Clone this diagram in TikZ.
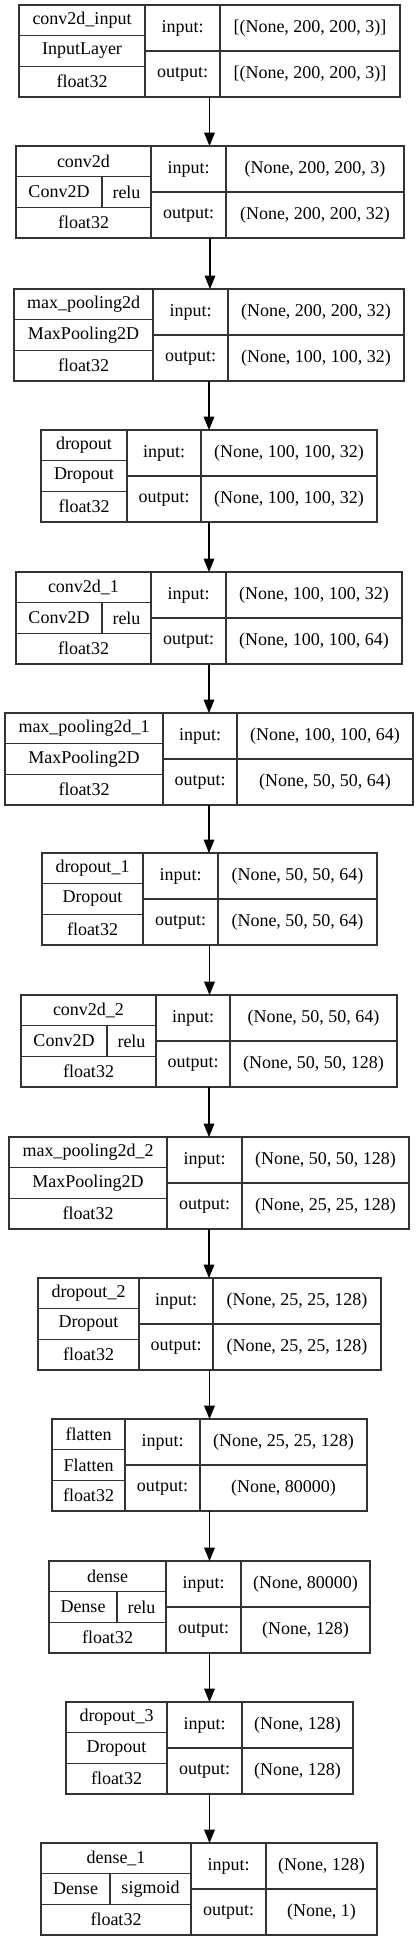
\documentclass[tikz,border=0pt]{standalone}
\usepackage{fontspec}
\setmainfont{Liberation Serif}
\usepackage{tikz}
\usetikzlibrary{arrows.meta, positioning}

\begin{document}
\begin{tikzpicture}[
    x=0.75pt, y=-0.75pt,
    font=\fontsize{13.5}{16}\selectfont,
    cel/.style={draw=black!80, line width=0.8pt, inner sep=0pt, outer sep=0pt,
                anchor=north west},
    blok/.style={inner sep=0pt, outer sep=0pt, anchor=north west,
                 minimum height=69pt},
    panah/.style={-{Triangle[length=10pt, width=8pt]}, line width=0.8pt}
  ]
    \useasboundingbox (0,0) rectangle (419,1941);
    % nr / top / left / kolom1 / kolom2 / right / split / name / class / act / in / out
    \foreach \i/\tp/\lx/\ca/\cb/\rx/\sx/\nm/\cls/\act/\inp/\outp in {
      1/5/19/145/220/400/0/conv2d\_input/InputLayer/{}/{[(None, 200, 200, 3)]}/{[(None, 200, 200, 3)]},
      2/146/16/151/226/404/102/conv2d/Conv2D/relu/{(None, 200, 200, 3)}/{(None, 200, 200, 32)},
      3/289/14/153/228/404/0/max\_pooling2d/MaxPooling2D/{}/{(None, 200, 200, 32)}/{(None, 100, 100, 32)},
      4/430/41/127/201/377/0/dropout/Dropout/{}/{(None, 100, 100, 32)}/{(None, 100, 100, 32)},
      5/572/16/151/226/402/102/conv2d\_1/Conv2D/relu/{(None, 100, 100, 32)}/{(None, 100, 100, 64)},
      6/713/5/163/237/413/0/max\_pooling2d\_1/MaxPooling2D/{}/{(None, 100, 100, 64)}/{(None, 50, 50, 64)},
      7/853/42/143/218/377/0/dropout\_1/Dropout/{}/{(None, 50, 50, 64)}/{(None, 50, 50, 64)},
      8/995/21/156/230/397/107/conv2d\_2/Conv2D/relu/{(None, 50, 50, 64)}/{(None, 50, 50, 128)},
      9/1137/9/167/242/409/0/max\_pooling2d\_2/MaxPooling2D/{}/{(None, 50, 50, 128)}/{(None, 25, 25, 128)},
      10/1278/38/139/213/381/0/dropout\_2/Dropout/{}/{(None, 25, 25, 128)}/{(None, 25, 25, 128)},
      11/1419/52/125/200/367/0/flatten/Flatten/{}/{(None, 25, 25, 128)}/{(None, 80000)},
      12/1561/49/166/241/370/117/dense/Dense/relu/{(None, 80000)}/{(None, 128)},
      13/1702/66/167/242/353/0/dropout\_3/Dropout/{}/{(None, 128)}/{(None, 128)},
      14/1843/41/191/266/377/110/dense\_1/Dense/sigmoid/{(None, 128)}/{(None, 1)}%
    }{
      \node[blok, minimum width={(\rx-\lx)*0.75pt}] (b\i) at (\lx,\tp) {};
      \node[cel, minimum width={(\ca-\lx)*0.75pt}, minimum height=23pt]
        (b\i-nm) at (\lx,\tp) {\nm};
      \ifnum\sx>0
        \node[cel, minimum width={(\sx-\lx)*0.75pt}, minimum height=23pt]
          (b\i-cls) at (\lx,\tp+30.667) {\cls};
        \node[cel, minimum width={(\ca-\sx)*0.75pt}, minimum height=23pt]
          (b\i-act) at (\sx,\tp+30.667) {\act};
      \else
        \node[cel, minimum width={(\ca-\lx)*0.75pt}, minimum height=23pt]
          (b\i-cls) at (\lx,\tp+30.667) {\cls};
      \fi
      \node[cel, minimum width={(\ca-\lx)*0.75pt}, minimum height=23pt]
        (b\i-dt) at (\lx,\tp+61.333) {float32};
      \node[cel, minimum width={(\cb-\ca)*0.75pt}, minimum height=34.5pt]
        (b\i-il) at (\ca,\tp) {input:};
      \node[cel, minimum width={(\cb-\ca)*0.75pt}, minimum height=34.5pt]
        (b\i-ol) at (\ca,\tp+46) {output:};
      \node[cel, minimum width={(\rx-\cb)*0.75pt}, minimum height=34.5pt]
        (b\i-in) at (\cb,\tp) {\inp};
      \node[cel, minimum width={(\rx-\cb)*0.75pt}, minimum height=34.5pt]
        (b\i-out) at (\cb,\tp+46) {\outp};
    }
    \foreach \i [evaluate=\i as \j using int(\i+1)] in {1,...,13}
      \draw[panah] (b\i.south) -- (b\i.south |- b\j.north);
  \end{tikzpicture}
\end{document}
